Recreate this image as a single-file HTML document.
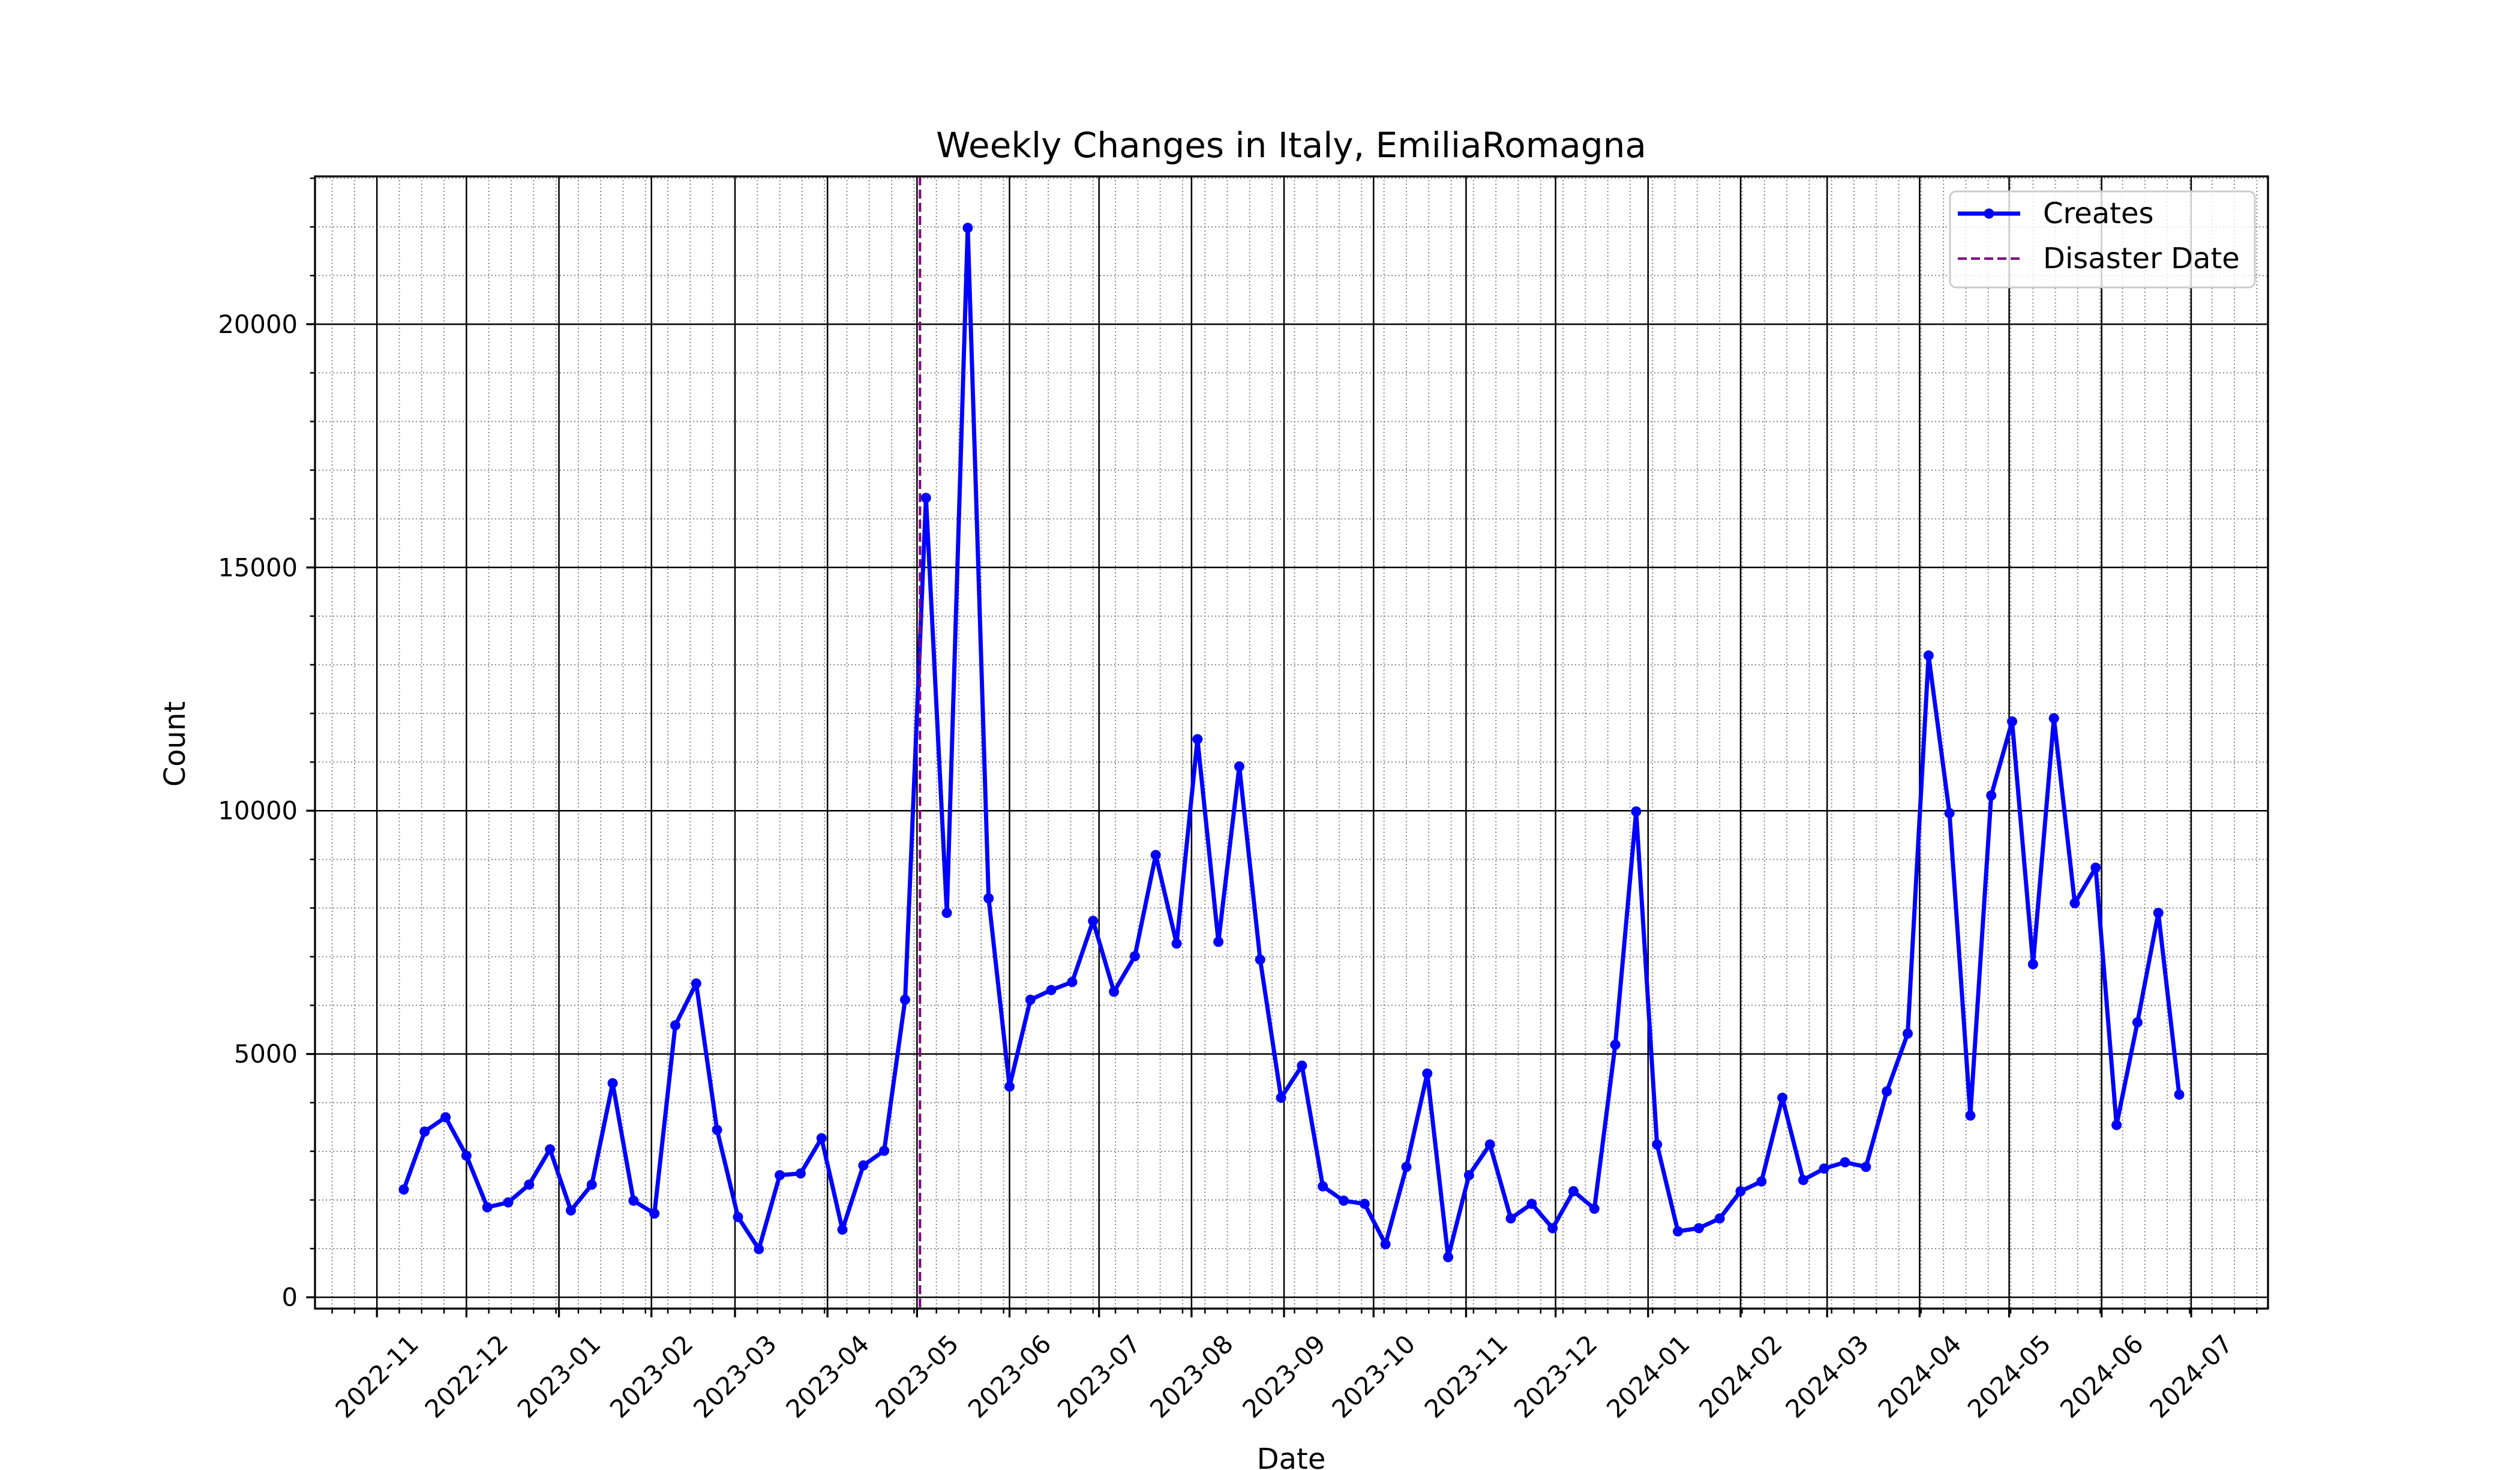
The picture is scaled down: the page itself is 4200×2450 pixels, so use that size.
<!DOCTYPE html>
<html><head><meta charset="utf-8"><style>
html,body{margin:0;padding:0;background:#fff;}
svg{display:block;font-family:"DejaVu Sans","Liberation Sans",sans-serif;}
</style></head><body>
<svg id="chart" width="4200" height="2450" viewBox="0 0 4200 2450" xmlns="http://www.w3.org/2000/svg">
<rect width="4200" height="2450" fill="#fff"/>
<g id="grid"></g>
<g id="marks"></g>
<g id="axes"></g>
<text x="2152" y="262" font-size="58" text-anchor="middle">Weekly Changes in Italy, EmiliaRomagna</text>
<text x="2152" y="2432" font-size="48" text-anchor="middle" dominant-baseline="central">Date</text>
<text x="292" y="1240" font-size="48" text-anchor="middle" dominant-baseline="central" transform="rotate(-90 292 1240)">Count</text>
<g>
<rect x="3250" y="319" width="508" height="160" rx="10" fill="#fff" fill-opacity="0.8" stroke="#ccc" stroke-width="3"/>
<line x1="3263" y1="356" x2="3367" y2="356" stroke="#0000ff" stroke-width="7"/>
<circle cx="3315" cy="356" r="8.5" fill="#0000ff"/>
<text x="3405" y="356" font-size="48" dominant-baseline="central">Creates</text>
<line x1="3263" y1="431" x2="3367" y2="431" stroke="#800080" stroke-width="4" stroke-dasharray="15,7"/>
<text x="3405" y="431" font-size="48" dominant-baseline="central">Disaster Date</text>
</g>
</svg>
<script>
const dates = ["2022-11-10","2022-11-17","2022-11-24","2022-12-01","2022-12-08","2022-12-15","2022-12-22","2022-12-29",
"2023-01-05","2023-01-12","2023-01-19","2023-01-26","2023-02-02","2023-02-09","2023-02-16","2023-02-23",
"2023-03-02","2023-03-09","2023-03-16","2023-03-23","2023-03-30","2023-04-06","2023-04-13","2023-04-20","2023-04-27",
"2023-05-04","2023-05-11","2023-05-18","2023-05-25","2023-06-01","2023-06-08","2023-06-15","2023-06-22","2023-06-29",
"2023-07-06","2023-07-13","2023-07-20","2023-07-27","2023-08-03","2023-08-10","2023-08-17","2023-08-24","2023-08-31",
"2023-09-07","2023-09-14","2023-09-21","2023-09-28","2023-10-05","2023-10-12","2023-10-19","2023-10-26",
"2023-11-02","2023-11-09","2023-11-16","2023-11-23","2023-11-30","2023-12-07","2023-12-14","2023-12-21","2023-12-28",
"2024-01-04","2024-01-11","2024-01-18","2024-01-25","2024-02-01","2024-02-08","2024-02-15","2024-02-22","2024-02-29",
"2024-03-07","2024-03-14","2024-03-21","2024-03-28","2024-04-04","2024-04-11","2024-04-18","2024-04-25",
"2024-05-02","2024-05-09","2024-05-16","2024-05-23","2024-05-30","2024-06-06","2024-06-13","2024-06-20","2024-06-27"];
const creates = [2215,3405,3700,2910,1850,1950,2315,3040,1785,2315,4400,1985,1720,5590,6450,3440,1650,990,2510,2545,3270,1390,2710,3010,6115,16430,7900,21980,8200,4330,6115,6315,6480,7735,6280,7010,9090,7270,11470,7305,10910,6940,4100,4760,2280,1985,1920,1090,2680,4600,825,2510,3140,1620,1920,1420,2180,1820,5190,9985,3140,1355,1420,1620,2180,2380,4100,2410,2645,2775,2680,4230,5420,13190,9950,3735,10315,11835,6845,11900,8100,8830,3540,5650,7900,4165];
const disasterDate = "2023-05-02";
const monthTicks = ["2022-11","2022-12","2023-01","2023-02","2023-03","2023-04","2023-05","2023-06","2023-07","2023-08","2023-09","2023-10","2023-11","2023-12","2024-01","2024-02","2024-03","2024-04","2024-05","2024-06","2024-07"];
const yTicks = [0,5000,10000,15000,20000];

const NS="http://www.w3.org/2000/svg";
const L=525,R=3780,T=294,B=2181;
const ORIGIN=Date.UTC(2022,10,1);
function day(s){const p=s.split("-").map(Number);return (Date.UTC(p[0],p[1]-1,p[2]||1)-ORIGIN)/86400000;}
const dvals=dates.map(day);
const dmin=Math.min(...dvals),dmax=Math.max(...dvals),dpad=(dmax-dmin)*0.05;
const xmin=dmin-dpad,xmax=dmax+dpad;
const vmin=Math.min(...creates),vmax=Math.max(...creates),vpad=(vmax-vmin)*0.05;
const ymin=vmin-vpad,ymax=vmax+vpad;
function X(d){return L+(d-xmin)/(xmax-xmin)*(R-L);}
function Y(v){return B-(v-ymin)/(ymax-ymin)*(B-T);}
function mk(tag,attrs,parent){const e=document.createElementNS(NS,tag);for(const k in attrs)e.setAttribute(k,attrs[k]);parent.appendChild(e);return e;}
const grid=document.getElementById('grid'),marks=document.getElementById('marks'),axes=document.getElementById('axes');

const majX=monthTicks.map(day);
const mstep=(majX[1]-majX[0])/4;
const tmin=Math.round((xmin-majX[0])/mstep),tmax=Math.round((xmax-majX[0])/mstep)+1;
for(let k=tmin;k<tmax;k++){
  const d=majX[0]+k*mstep;
  if(d<xmin||d>xmax)continue;
  if(majX.some(m=>Math.abs(m-d)<0.5))continue;
  const x=X(d);
  const g=mk('line',{x1:x,x2:x,y1:T,y2:B,stroke:'#888',"stroke-width":2,"stroke-dasharray":"2,4"},grid);
  
  
  const t=mk('line',{x1:x,x2:x,y1:B,y2:B+8.3,stroke:'#000',"stroke-width":2.5},axes);
  
  
}
for(let v=-1000;v<=ymax;v+=1000){
  if(v<ymin||v%5000===0)continue;
  const y=Y(v);
  const g=mk('line',{x1:L,x2:R,y1:y,y2:y,stroke:'#888',"stroke-width":2,"stroke-dasharray":"2,4"},grid);
  
  
  const t=mk('line',{x1:L-8.3,x2:L,y1:y,y2:y,stroke:'#000',"stroke-width":2.5},axes);
  
  
}
majX.forEach((d,i)=>{
  const x=X(d);
  const g=mk('line',{x1:x,x2:x,y1:T,y2:B,stroke:'#000',"stroke-width":2.5},grid);
  
  
  const t=mk('line',{x1:x,x2:x,y1:B,y2:B+14.6,stroke:'#000',"stroke-width":3.3},axes);
  
  
  const lab=mk('text',{x:x,y:2294,"font-size":41.7,"text-anchor":"middle","dominant-baseline":"central",transform:`rotate(-45 ${x} 2294)`},axes);
  lab.textContent=monthTicks[i];
  
  
});
yTicks.forEach(v=>{
  const y=Y(v);
  const g=mk('line',{x1:L,x2:R,y1:y,y2:y,stroke:'#000',"stroke-width":2.5},grid);
  
  
  const t=mk('line',{x1:L-14.6,x2:L,y1:y,y2:y,stroke:'#000',"stroke-width":3.3},axes);
  
  
  const lab=mk('text',{x:L-29,y:y,"font-size":41.7,"text-anchor":"end","dominant-baseline":"central"},axes);
  lab.textContent=String(v);
  
  
});
const pts=dvals.map((d,i)=>X(d).toFixed(1)+','+Y(creates[i]).toFixed(1)).join(' ');
const line=mk('polyline',{points:pts,fill:'none',stroke:'#0000ff',"stroke-width":7,"stroke-linejoin":"round"},marks);


dvals.forEach((d,i)=>{
  const c=mk('circle',{cx:X(d),cy:Y(creates[i]),r:8.5,fill:'#0000ff'},marks);
  
  
});
const dx=X(day(disasterDate));
const dl=mk('line',{x1:dx,x2:dx,y1:T,y2:B,stroke:'#800080',"stroke-width":4,"stroke-dasharray":"15,7"},marks);


const sp=mk('rect',{x:L,y:T,width:R-L,height:B-T,fill:'none',stroke:'#000',"stroke-width":3.3},axes);


</script>
</body></html>
